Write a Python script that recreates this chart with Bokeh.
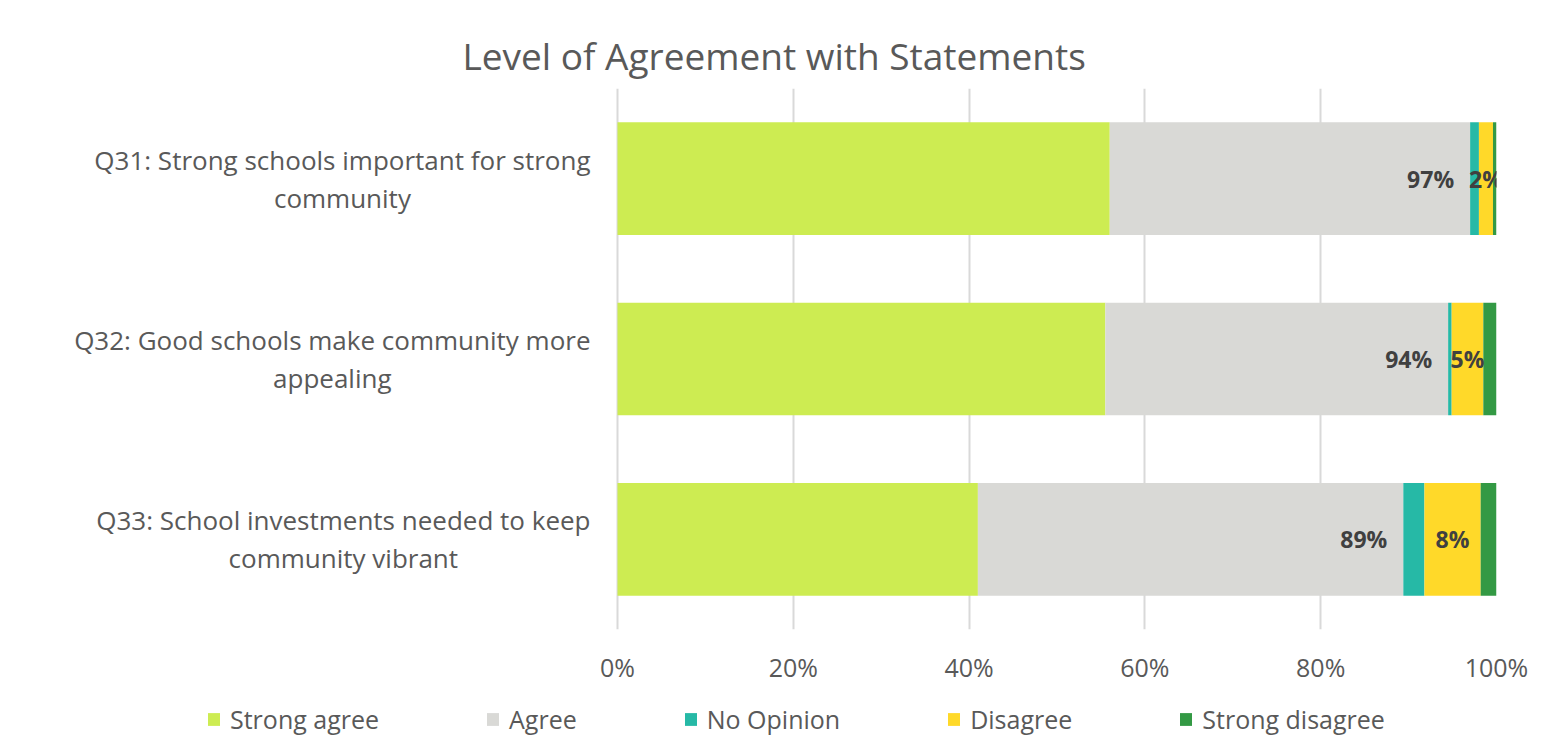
from bokeh.plotting import figure
from bokeh.layouts import column
from bokeh.models import ColumnDataSource, FactorRange, Range1d, LabelSet, Label, Legend, LegendItem, FixedTicker
from bokeh.embed import file_html
from bokeh.resources import INLINE
from bokeh.core.properties import value

# ---------------- data ----------------
questions = [
    "Q31: Strong schools important for strong\ncommunity",
    "Q32: Good schools make community more\nappealing",
    "Q33: School investments needed to keep\ncommunity vibrant",
]
series = ["Strong agree", "Agree", "No Opinion", "Disagree", "Strong disagree"]
strong_agree = [56.0, 55.5, 41.0]
agree = [41.0, 39.0, 48.4]
no_opinion = [1.0, 0.4, 2.4]
disagree = [1.6, 3.6, 6.4]
strong_disagree = [0.4, 1.5, 1.8]
agree_labels = ["97%", "94%", "89%"]
disagree_labels = ["2%", "5%", "8%"]
x_ticks = [0, 20, 40, 60, 80, 100]
x_tick_labels = ["0%", "20%", "40%", "60%", "80%", "100%"]
colors = ["#CDEC52", "#D9D9D6", "#26B9A6", "#FFD929", "#339944"]

FONT = "Open Sans"
GREY = "#595959"

# layout (pixels)
WIDTH = 1535
LEFT_PX = 617      # where 0% sits
BAR_PX = 879       # pixels from 0% to 100%
x_start = -LEFT_PX * 100.0 / BAR_PX

keys = ["sa", "ag", "no", "di", "sd"]
src = ColumnDataSource(dict(q=questions, sa=strong_agree, ag=agree, no=no_opinion,
                            di=disagree, sd=strong_disagree))

factors = questions[::-1]
p = figure(
    y_range=FactorRange(factors=factors),
    x_range=Range1d(x_start, 100),
    frame_width=LEFT_PX + BAR_PX, frame_height=541,
    min_border_left=0, min_border_right=WIDTH - LEFT_PX - BAR_PX,
    min_border_top=88, min_border_bottom=60,
    y_axis_location=None,
    output_backend="svg", toolbar_location=None,
)

renderers = p.hbar_stack(keys, y="q", height=0.625, color=colors, source=src, line_width=0)

# ---------------- category labels (centre of each factor slot) ----------------
for q in questions:
    slot = factors.index(q) + 0.5
    p.add_layout(Label(x=0, y=slot, x_offset=-27, text=q, anchor="center_right",
                       text_align="center", text_baseline="middle",
                       text_font=FONT, text_font_size="26px", text_color=GREY,
                       text_line_height=1.05))

# ---------------- data labels ----------------
agree_end = [a + b for a, b in zip(strong_agree, agree)]
dis_mid = [a + b + c + d / 2 for a, b, c, d in zip(strong_agree, agree, no_opinion, disagree)]
lsrc = ColumnDataSource(dict(q=questions, xa=agree_end, xd=dis_mid, ta=agree_labels, td=disagree_labels))
common = dict(text_font=value(FONT), text_font_size="23px", text_font_style="bold",
              text_color="#404040", text_baseline="middle", source=lsrc)
p.add_layout(LabelSet(x="xa", y="q", text="ta", text_align="right", x_offset=-16, **common))
p.add_layout(LabelSet(x="xd", y="q", text="td", text_align="center", **common))

# ---------------- axes / grid ----------------
p.xaxis.ticker = FixedTicker(ticks=x_ticks)
p.xaxis.major_label_overrides = {t: l for t, l in zip(x_ticks, x_tick_labels)}
p.xaxis.axis_line_color = None
p.xaxis.major_tick_line_color = None
p.xaxis.minor_tick_line_color = None
p.xaxis.major_label_text_font = FONT
p.xaxis.major_label_text_font_size = "25px"
p.xaxis.major_label_text_color = GREY
p.xaxis.major_label_standoff = 14

p.xgrid.ticker = FixedTicker(ticks=x_ticks)
p.xgrid.grid_line_color = "#D9D9D9"
p.xgrid.grid_line_width = 2
p.ygrid.grid_line_color = None
p.outline_line_color = None

# ---------------- title ----------------
p.title.text = "Level of Agreement with Statements"
p.title.align = "left"
p.title.offset = 462
p.title.text_font = FONT
p.title.text_font_size = "37px"
p.title.text_font_style = "normal"
p.title.text_color = GREY
p.title.standoff = 15

# ---------------- legend (own strip below the chart) ----------------
lf = figure(width=WIDTH, height=59, x_range=Range1d(0, 1), y_range=Range1d(0, 1),
            min_border=0, x_axis_location=None, y_axis_location=None,
            output_backend="svg", toolbar_location=None)
lf.grid.grid_line_color = None
lf.outline_line_color = None
# swatch renderers for the legend: one off-screen bar per series (outside the strip's range)
swatches = [lf.hbar(y=[-5], left=[0], right=[1], height=0.5, color=c, line_width=0) for c in colors]

legend = Legend(
    items=[LegendItem(label=s, renderers=[r]) for s, r in zip(series, swatches)],
    orientation="horizontal", location=(206, 12),
    glyph_width=15, glyph_height=16, label_standoff=9, spacing=106,
    padding=0, margin=0, border_line_color=None, background_fill_alpha=0,
    label_text_font=FONT, label_text_font_size="25px", label_text_color=GREY,
)
lf.add_layout(legend, "center")

layout = column(p, lf, spacing=0)
open("out.html", "w").write(file_html(layout, INLINE))
